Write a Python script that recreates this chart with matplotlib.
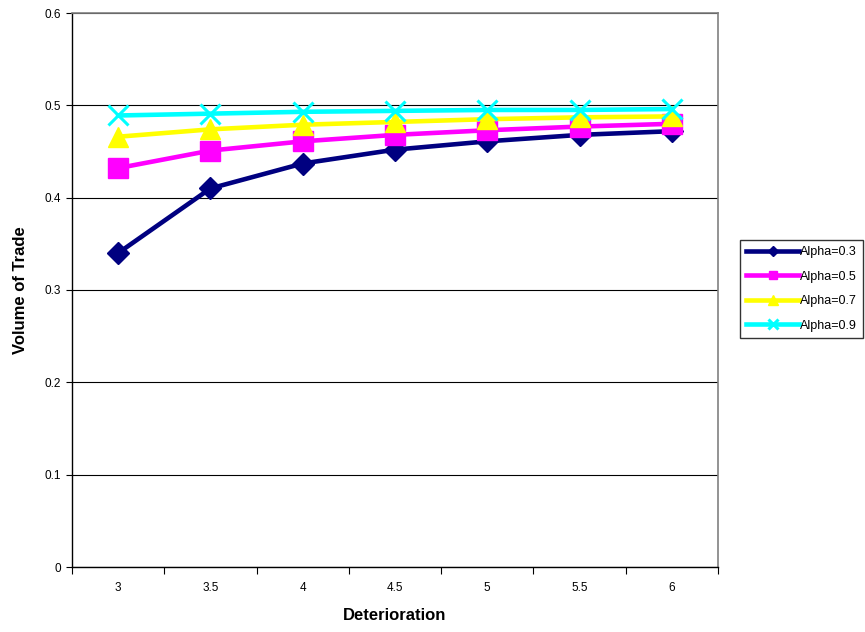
import matplotlib
matplotlib.use("Agg")
import matplotlib.pyplot as plt
from matplotlib.ticker import FixedLocator, FuncFormatter
import numpy as np

plt.rcParams['font.family'] = ['Liberation Sans', 'DejaVu Sans']

categories = ["3", "3.5", "4", "4.5", "5", "5.5", "6"]
alpha_03 = [0.340, 0.410, 0.437, 0.452, 0.461, 0.468, 0.472]
alpha_05 = [0.432, 0.451, 0.461, 0.468, 0.473, 0.477, 0.480]
alpha_07 = [0.466, 0.474, 0.479, 0.482, 0.485, 0.487, 0.488]
alpha_09 = [0.489, 0.491, 0.493, 0.494, 0.495, 0.495, 0.496]
series_labels = ["Alpha=0.3", "Alpha=0.5", "Alpha=0.7", "Alpha=0.9"]
y_ticks = [0, 0.1, 0.2, 0.3, 0.4, 0.5, 0.6]

fig = plt.figure(figsize=(8.65, 6.32), dpi=100)
ax = fig.add_axes([72/865, 1-567/632, (718-72)/865, (567-13)/632])

x = np.arange(len(categories))
styles = [
    dict(color='#000080', marker='D', ms=11),
    dict(color='#FF00FF', marker='s', ms=14),
    dict(color='#FFFF00', marker='^', ms=15),
    dict(color='#00FFFF', marker='x', ms=15, mew=2.2),
]
for vals, lab, st in zip([alpha_03, alpha_05, alpha_07, alpha_09], series_labels, styles):
    ax.plot(x, vals, lw=3.3, label=lab, zorder=3, **st)

ax.set_xlim(-0.5, len(categories) - 0.5)
ax.set_ylim(0, 0.6)
ax.set_yticks(y_ticks)
ax.yaxis.set_major_formatter(FuncFormatter(lambda v, p: '%g' % v))
ax.grid(axis='y', color='black', lw=0.8)
ax.set_axisbelow(True)

ax.xaxis.set_major_locator(FixedLocator(np.arange(-0.5, len(categories), 1.0)))
ax.xaxis.set_major_formatter(FuncFormatter(lambda v, p: ''))
ax.xaxis.set_minor_locator(FixedLocator(x))
ax.set_xticklabels(categories, minor=True)
ax.tick_params(axis='x', which='major', direction='out', length=5, width=0.8, color='black')
ax.tick_params(axis='x', which='minor', length=0, pad=11, labelsize=8.5)
ax.tick_params(axis='y', direction='out', length=4, width=0.8, labelsize=8.5, pad=4)

for s in ['top', 'right']:
    ax.spines[s].set_color('#808080')
    ax.spines[s].set_linewidth(1.2)
for s in ['left', 'bottom']:
    ax.spines[s].set_color('black')
    ax.spines[s].set_linewidth(1.0)

ax.set_xlabel('Deterioration', fontsize=12, fontweight='bold', labelpad=10)
ax.set_ylabel('Volume of Trade', fontsize=12, fontweight='bold', labelpad=12)

leg = ax.legend(loc='upper left', bbox_to_anchor=(740/865, 1-240/632), bbox_transform=fig.transFigure,
                fontsize=9, frameon=True, fancybox=False, edgecolor='black', markerscale=0.45,
                handlelength=4.2, handletextpad=0.1, borderpad=0.5, labelspacing=1.0, borderaxespad=0)
leg.get_frame().set_linewidth(1.0)

fig.savefig('out.png', dpi=100)
